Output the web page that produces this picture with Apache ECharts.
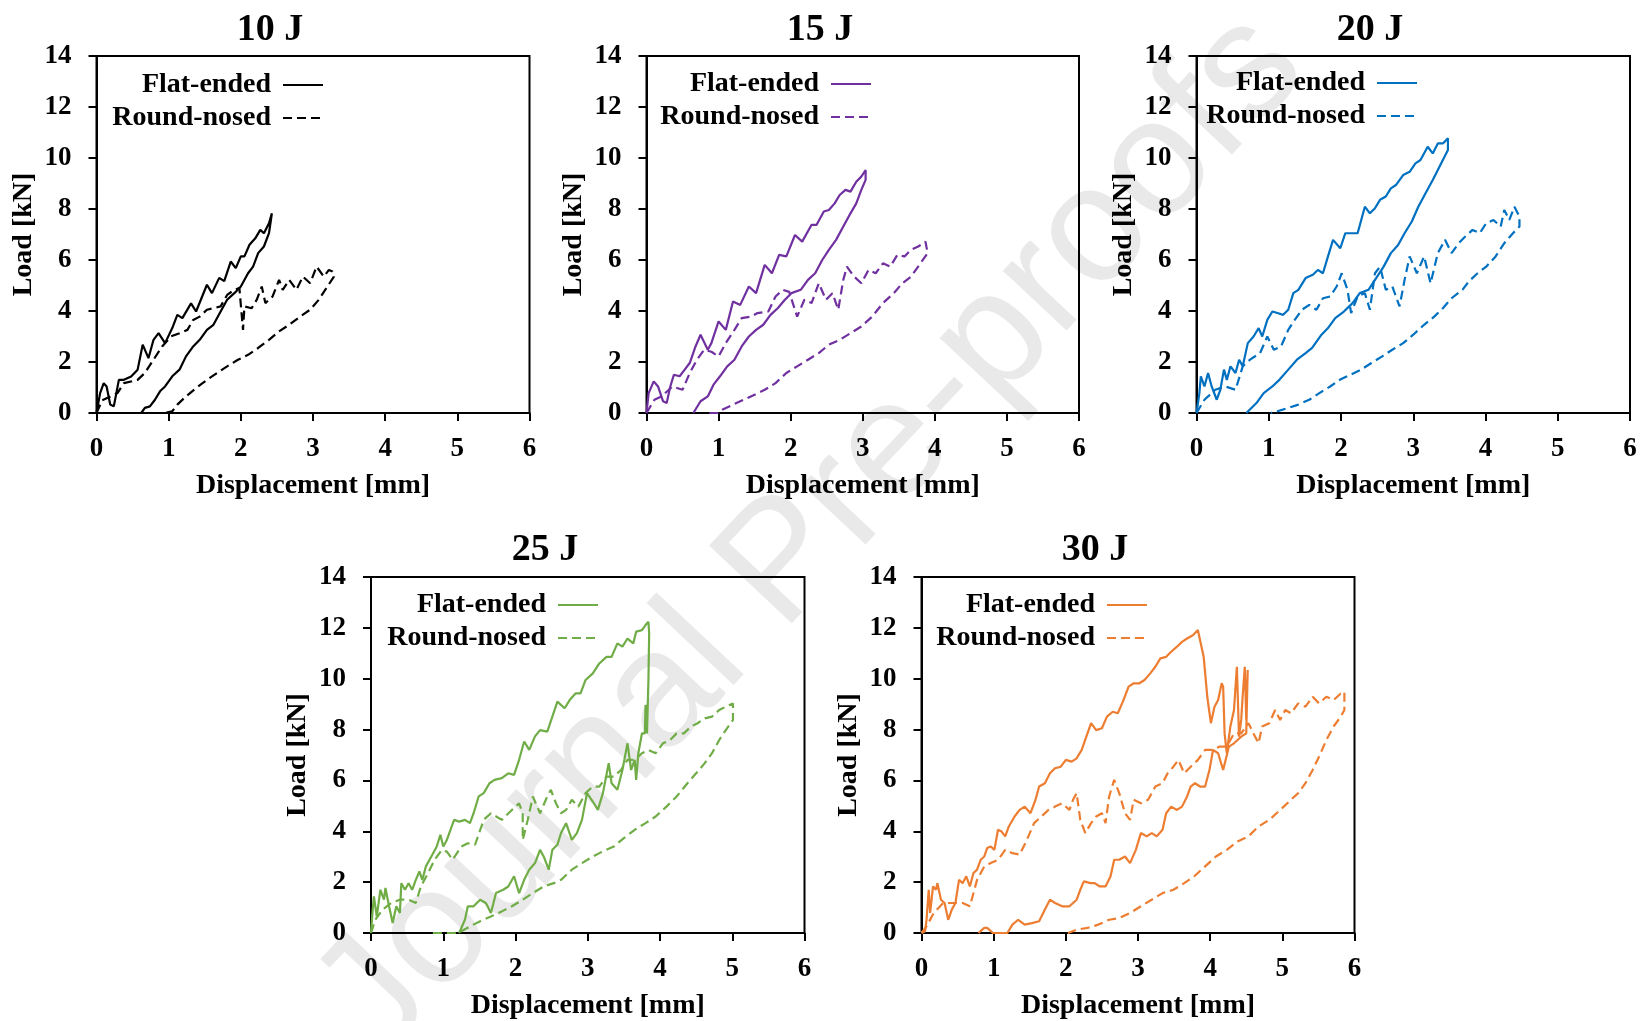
<!DOCTYPE html>
<html>
<head>
<meta charset="utf-8">
<script src="https://cdn.jsdelivr.net/npm/echarts@6/dist/echarts.min.js"></script>
<style>
html,body{margin:0;padding:0;background:#fff;}
#chart{width:1646px;height:1021px;}
</style>
</head>
<body>
<div id="chart"></div>
<script>
// ---------- DATA (displacement [mm], load [kN]) ----------
const panelTitles = ['10 J', '15 J', '20 J', '25 J', '30 J'];
const seriesLabels = ['Flat-ended', 'Round-nosed'];
const xTicks = [0, 1, 2, 3, 4, 5, 6];
const yTicks = [0, 2, 4, 6, 8, 10, 12, 14];
const panelColors = ['#000000', '#7030a0', '#0070c0', '#70ad47', '#ed7d31'];

const flat10 = [[0,0],[0.05,0.78],[0.1,1.17],[0.14,1.04],[0.19,0.33],[0.24,0.26],[0.31,1.3],[0.38,1.3],[0.48,1.43],[0.57,1.7],[0.64,2.68],[0.72,2.15],[0.79,2.87],[0.86,3.13],[0.95,2.74],[1.05,3.33],[1.12,3.85],[1.19,3.72],[1.31,4.3],[1.38,3.98],[1.53,5.03],[1.6,4.7],[1.7,5.3],[1.77,5.17],[1.86,5.94],[1.93,5.68],[2.0,6.14],[2.05,6.14],[2.12,6.6],[2.2,6.85],[2.27,7.18],[2.32,7.05],[2.39,7.44],[2.43,7.83],[2.39,7.05],[2.32,6.53],[2.24,6.27],[2.17,5.74],[2.1,5.48],[2.0,4.96],[1.91,4.7],[1.81,4.44],[1.72,3.98],[1.62,3.46],[1.53,3.26],[1.43,2.87],[1.34,2.61],[1.24,2.22],[1.15,1.7],[1.05,1.44],[0.95,1.04],[0.88,0.85],[0.81,0.52],[0.74,0.26],[0.67,0.2],[0.62,0]];
const round10 = [[0,0],[0.08,0.5],[0.29,0.78],[0.38,1.17],[0.57,1.3],[0.67,1.57],[0.79,2.09],[0.91,2.61],[1.03,3.0],[1.15,3.13],[1.26,3.26],[1.34,3.65],[1.43,3.78],[1.53,4.05],[1.62,4.11],[1.72,4.18],[1.81,4.63],[1.91,4.83],[1.98,4.9],[2.03,3.26],[2.05,4.18],[2.15,4.11],[2.22,4.44],[2.29,4.96],[2.34,4.31],[2.44,4.57],[2.53,5.22],[2.58,4.83],[2.67,5.22],[2.77,4.83],[2.86,5.35],[2.96,5.09],[3.05,5.74],[3.15,5.35],[3.22,5.61],[3.27,5.55],[3.29,5.35],[3.2,4.96],[3.08,4.44],[2.96,4.05],[2.82,3.78],[2.67,3.46],[2.53,3.2],[2.39,2.87],[2.24,2.55],[2.1,2.28],[1.96,2.09],[1.81,1.83],[1.67,1.57],[1.53,1.3],[1.38,0.98],[1.24,0.65],[1.12,0.33],[1.05,0.07],[0.95,0]];

const flat15 = [[0,0],[0.03,0.78],[0.1,1.24],[0.16,1.04],[0.23,0.46],[0.28,0.39],[0.33,1.04],[0.38,1.5],[0.46,1.44],[0.53,1.7],[0.6,1.96],[0.68,2.61],[0.75,3.07],[0.85,2.48],[0.9,2.74],[1.0,3.59],[1.1,3.26],[1.2,4.37],[1.3,4.24],[1.42,4.96],[1.52,4.7],[1.64,5.81],[1.74,5.48],[1.84,6.2],[1.94,6.14],[2.06,6.98],[2.16,6.72],[2.29,7.38],[2.36,7.38],[2.46,7.9],[2.53,7.96],[2.61,8.22],[2.68,8.55],[2.76,8.75],[2.83,8.68],[2.91,9.07],[2.98,9.27],[3.04,9.53],[3.04,9.14],[2.98,8.75],[2.91,8.22],[2.83,7.83],[2.73,7.31],[2.63,6.79],[2.53,6.4],[2.44,6.01],[2.34,5.48],[2.24,5.22],[2.14,4.83],[2.01,4.7],[1.92,4.44],[1.82,4.11],[1.72,3.85],[1.62,3.46],[1.52,3.26],[1.42,3.0],[1.32,2.61],[1.22,2.09],[1.12,1.83],[1.02,1.44],[0.93,1.11],[0.85,0.65],[0.75,0.46],[0.65,0]];
const round15 = [[0,0],[0.11,0.52],[0.21,0.65],[0.36,1.04],[0.5,0.91],[0.6,1.57],[0.7,2.09],[0.8,2.48],[0.9,2.4],[1.0,2.22],[1.1,2.74],[1.22,3.26],[1.32,3.72],[1.45,3.78],[1.54,3.92],[1.69,3.98],[1.79,4.57],[1.89,4.83],[1.98,4.75],[2.09,3.78],[2.19,4.44],[2.29,4.31],[2.39,5.09],[2.49,4.44],[2.58,4.7],[2.66,4.05],[2.73,5.22],[2.78,5.74],[2.88,5.35],[2.98,5.09],[3.08,5.61],[3.18,5.48],[3.28,5.87],[3.38,5.74],[3.48,6.2],[3.58,6.14],[3.67,6.4],[3.77,6.53],[3.87,6.72],[3.9,6.27],[3.8,5.87],[3.67,5.35],[3.55,5.09],[3.43,4.7],[3.28,4.31],[3.13,3.78],[2.98,3.39],[2.83,3.13],[2.68,2.87],[2.53,2.68],[2.39,2.35],[2.24,2.09],[2.09,1.83],[1.94,1.57],[1.79,1.17],[1.64,0.91],[1.5,0.72],[1.35,0.52],[1.2,0.33],[1.05,0.13],[1.0,0],[0.85,0]];

const flat20 = [[0,0],[0.04,0.78],[0.06,1.44],[0.11,1.04],[0.16,1.57],[0.21,1.04],[0.28,0.52],[0.33,0.91],[0.38,1.7],[0.42,1.3],[0.47,1.83],[0.54,1.57],[0.59,2.09],[0.64,1.83],[0.71,2.74],[0.79,3.0],[0.86,3.33],[0.91,3.0],[0.98,3.65],[1.05,3.98],[1.12,3.92],[1.2,3.85],[1.27,4.05],[1.34,4.7],[1.41,4.83],[1.51,5.29],[1.61,5.42],[1.68,5.61],[1.75,5.48],[1.82,6.14],[1.89,6.79],[1.99,6.46],[2.06,7.05],[2.14,7.05],[2.23,7.05],[2.33,8.09],[2.4,7.83],[2.47,8.03],[2.54,8.36],[2.62,8.49],[2.69,8.81],[2.76,8.94],[2.86,9.33],[2.95,9.46],[3.03,9.79],[3.1,9.92],[3.2,10.44],[3.27,10.18],[3.34,10.57],[3.41,10.57],[3.48,10.77],[3.48,10.31],[3.41,9.92],[3.34,9.53],[3.27,9.14],[3.17,8.62],[3.07,8.09],[2.98,7.51],[2.88,7.05],[2.79,6.59],[2.69,6.27],[2.59,5.74],[2.5,5.35],[2.38,4.83],[2.26,4.7],[2.16,4.31],[2.04,3.98],[1.92,3.72],[1.82,3.33],[1.73,3.07],[1.6,2.55],[1.51,2.35],[1.39,2.09],[1.27,1.7],[1.15,1.31],[1.05,1.04],[0.93,0.78],[0.83,0.39],[0.69,0]];
const round20 = [[0,0],[0.11,0.52],[0.26,0.91],[0.4,1.04],[0.54,0.91],[0.64,1.83],[0.74,2.09],[0.88,2.35],[0.98,3.0],[1.07,2.48],[1.17,2.61],[1.27,3.26],[1.36,3.65],[1.46,4.05],[1.56,4.24],[1.66,4.05],[1.75,4.5],[1.85,4.57],[1.94,4.96],[2.01,5.48],[2.09,4.83],[2.14,3.92],[2.23,4.57],[2.33,4.7],[2.4,4.05],[2.47,5.48],[2.54,5.74],[2.62,4.83],[2.71,4.96],[2.81,4.18],[2.88,5.22],[2.95,6.14],[3.05,5.48],[3.15,6.14],[3.24,5.09],[3.34,6.27],[3.44,6.79],[3.53,6.27],[3.63,6.66],[3.72,6.92],[3.82,7.18],[3.92,7.05],[4.01,7.44],[4.11,7.57],[4.21,7.31],[4.26,7.96],[4.33,7.57],[4.4,8.09],[4.47,7.7],[4.47,7.31],[4.38,7.05],[4.26,6.66],[4.14,6.14],[4.01,5.74],[3.89,5.48],[3.77,5.16],[3.68,4.83],[3.53,4.5],[3.41,4.11],[3.29,3.78],[3.15,3.46],[3.0,3.07],[2.86,2.74],[2.71,2.48],[2.57,2.22],[2.42,1.96],[2.28,1.7],[2.13,1.5],[1.99,1.31],[1.85,1.04],[1.7,0.78],[1.56,0.52],[1.41,0.33],[1.27,0.2],[1.12,0.07],[1.03,0]];

const flat25 = [[0,0],[0.02,0.79],[0.04,1.44],[0.08,0.65],[0.13,1.7],[0.18,1.31],[0.2,1.77],[0.25,1.05],[0.3,0.39],[0.35,1.05],[0.4,0.79],[0.42,1.96],[0.47,1.7],[0.52,1.96],[0.57,1.7],[0.62,2.09],[0.67,2.42],[0.71,2.09],[0.76,2.62],[0.81,2.88],[0.86,3.14],[0.91,3.4],[0.96,3.86],[1.0,3.4],[1.05,3.66],[1.1,4.06],[1.15,4.45],[1.22,4.38],[1.3,4.45],[1.37,4.32],[1.42,4.71],[1.49,5.37],[1.56,5.5],[1.64,5.89],[1.71,6.02],[1.81,6.09],[1.9,6.28],[1.98,6.22],[2.05,6.81],[2.12,7.53],[2.19,7.2],[2.27,7.73],[2.34,7.98],[2.44,7.92],[2.51,8.51],[2.58,9.1],[2.68,8.84],[2.75,9.16],[2.83,9.42],[2.9,9.42],[2.97,9.95],[3.07,10.21],[3.16,10.6],[3.26,10.86],[3.33,10.86],[3.41,11.39],[3.48,11.26],[3.55,11.58],[3.63,11.39],[3.67,11.85],[3.75,11.91],[3.8,12.11],[3.84,12.24],[3.85,11.78],[3.84,9.95],[3.82,7.85],[3.8,8.97],[3.79,7.85],[3.75,7.85],[3.7,7.07],[3.67,6.02],[3.65,6.81],[3.6,6.41],[3.55,7.46],[3.48,6.41],[3.41,5.63],[3.33,5.89],[3.29,6.68],[3.21,5.5],[3.14,4.84],[3.07,5.17],[2.99,5.5],[2.92,4.45],[2.85,3.93],[2.78,3.66],[2.7,4.32],[2.63,3.93],[2.58,3.47],[2.51,3.27],[2.46,2.49],[2.39,3.01],[2.34,3.27],[2.27,2.75],[2.19,2.49],[2.12,2.09],[2.05,1.57],[1.98,2.23],[1.9,1.83],[1.83,1.7],[1.73,1.57],[1.66,0.79],[1.59,1.18],[1.51,1.31],[1.42,1.05],[1.34,1.05],[1.3,0.52],[1.22,0]];
const round25 = [[0,0],[0.06,0.52],[0.16,0.92],[0.28,1.18],[0.4,1.31],[0.52,1.31],[0.62,1.18],[0.69,1.83],[0.79,2.36],[0.88,2.88],[0.98,3.27],[1.05,3.2],[1.13,2.88],[1.25,3.4],[1.34,3.53],[1.44,3.47],[1.56,4.45],[1.66,4.71],[1.81,4.45],[1.95,4.84],[2.05,5.1],[2.1,4.71],[2.1,3.66],[2.17,4.45],[2.24,5.37],[2.34,4.71],[2.44,5.37],[2.49,5.63],[2.56,5.1],[2.63,4.71],[2.7,4.84],[2.78,5.24],[2.87,4.97],[2.97,5.5],[3.07,5.76],[3.16,5.76],[3.26,6.15],[3.36,6.15],[3.46,6.41],[3.55,6.81],[3.65,6.81],[3.75,7.07],[3.84,7.2],[3.94,7.07],[4.04,7.46],[4.14,7.59],[4.23,7.85],[4.33,7.85],[4.43,8.12],[4.52,8.25],[4.62,8.44],[4.72,8.51],[4.82,8.77],[4.91,8.9],[5.01,9.03],[5.01,8.38],[4.91,7.98],[4.82,7.59],[4.72,7.07],[4.62,6.68],[4.5,6.28],[4.38,5.89],[4.23,5.37],[4.09,4.97],[3.94,4.58],[3.8,4.32],[3.65,4.06],[3.5,3.73],[3.36,3.4],[3.21,3.21],[3.07,3.01],[2.92,2.75],[2.78,2.49],[2.63,2.09],[2.53,1.96],[2.39,1.83],[2.24,1.57],[2.1,1.31],[1.95,1.05],[1.81,0.85],[1.66,0.65],[1.51,0.46],[1.37,0.26],[1.25,0.07],[1.17,0],[0.83,0]];

const flat30 = [[0,0],[0.05,0.07],[0.07,0.52],[0.1,1.7],[0.12,0.79],[0.16,1.83],[0.2,1.7],[0.22,1.96],[0.27,1.31],[0.32,1.18],[0.37,0.52],[0.42,0.92],[0.47,1.18],[0.52,2.09],[0.57,1.96],[0.62,2.23],[0.67,1.83],[0.72,2.36],[0.77,2.49],[0.82,2.88],[0.87,3.01],[0.91,3.34],[0.96,3.4],[1.01,3.27],[1.06,4.06],[1.11,3.99],[1.16,3.8],[1.21,4.19],[1.29,4.58],[1.36,4.84],[1.43,4.97],[1.51,4.71],[1.58,5.24],[1.63,5.76],[1.71,5.89],[1.78,6.28],[1.85,6.48],[1.93,6.54],[2.0,6.81],[2.08,6.74],[2.15,6.87],[2.22,7.2],[2.3,7.85],[2.35,8.25],[2.42,7.98],[2.5,8.05],[2.57,8.51],[2.65,8.7],[2.72,8.64],[2.79,9.1],[2.87,9.69],[2.94,9.82],[3.02,9.82],[3.09,9.95],[3.17,10.21],[3.24,10.47],[3.31,10.8],[3.39,10.86],[3.46,11.06],[3.54,11.26],[3.61,11.45],[3.68,11.58],[3.76,11.71],[3.83,11.91],[3.91,10.86],[3.96,9.29],[4.01,8.25],[4.06,8.9],[4.11,9.16],[4.16,9.82],[4.18,9.69],[4.2,7.85],[4.23,7.07],[4.28,8.12],[4.33,8.77],[4.37,10.47],[4.4,7.72],[4.43,8.38],[4.45,9.29],[4.48,10.47],[4.5,8.38],[4.52,10.34],[4.5,7.85],[4.43,7.72],[4.33,7.46],[4.26,7.33],[4.18,6.41],[4.11,7.07],[4.04,7.2],[3.99,6.41],[3.93,5.76],[3.86,5.76],[3.79,5.89],[3.73,5.76],[3.68,5.37],[3.61,4.97],[3.54,4.84],[3.46,4.97],[3.39,4.71],[3.34,4.06],[3.26,3.8],[3.19,3.93],[3.12,3.8],[3.04,3.93],[2.97,3.27],[2.89,2.75],[2.82,3.01],[2.74,2.88],[2.67,2.88],[2.62,2.23],[2.55,1.83],[2.47,1.83],[2.4,1.96],[2.34,1.96],[2.25,2.03],[2.2,1.7],[2.15,1.31],[2.05,1.05],[1.95,1.05],[1.85,1.18],[1.78,1.31],[1.71,0.92],[1.63,0.46],[1.53,0.39],[1.43,0.33],[1.34,0.52],[1.26,0.33],[1.19,0],[0.99,0],[0.91,0.2],[0.87,0.2],[0.79,0]];
const round30 = [[0,0],[0.07,0.26],[0.17,0.79],[0.3,1.18],[0.45,1.18],[0.57,1.18],[0.67,1.05],[0.77,2.09],[0.87,2.62],[0.96,2.75],[1.06,2.88],[1.16,3.27],[1.26,3.14],[1.36,3.08],[1.46,3.66],[1.56,4.32],[1.66,4.58],[1.76,4.84],[1.85,4.97],[1.95,5.1],[2.05,4.84],[2.1,5.24],[2.15,5.5],[2.2,4.45],[2.27,3.93],[2.35,4.32],[2.42,4.58],[2.5,4.71],[2.55,4.32],[2.6,5.37],[2.67,6.02],[2.74,5.5],[2.82,4.71],[2.89,4.45],[2.94,5.24],[3.04,5.1],[3.14,5.24],[3.24,5.76],[3.34,5.89],[3.41,6.28],[3.49,6.54],[3.56,6.81],[3.64,6.28],[3.73,6.54],[3.83,6.81],[3.93,7.2],[4.03,7.2],[4.13,7.33],[4.23,7.33],[4.33,7.85],[4.43,7.85],[4.53,8.25],[4.6,7.85],[4.67,7.46],[4.72,8.12],[4.82,8.25],[4.9,8.77],[4.97,8.38],[5.04,8.77],[5.12,8.64],[5.22,9.03],[5.32,8.9],[5.42,9.29],[5.51,9.03],[5.61,9.29],[5.71,9.16],[5.81,9.42],[5.86,9.49],[5.86,8.77],[5.81,8.51],[5.71,8.12],[5.61,7.59],[5.51,6.94],[5.42,6.41],[5.32,5.89],[5.22,5.5],[5.12,5.24],[5.02,4.97],[4.92,4.71],[4.82,4.45],[4.67,4.19],[4.53,3.8],[4.38,3.6],[4.23,3.27],[4.08,3.01],[3.93,2.62],[3.78,2.23],[3.64,1.96],[3.49,1.7],[3.34,1.57],[3.19,1.31],[3.04,1.05],[2.89,0.79],[2.74,0.59],[2.6,0.52],[2.45,0.33],[2.3,0.2],[2.15,0.13],[2.03,0]];

const flatSets = [flat10, flat15, flat20, flat25, flat30];
const roundSets = [round10, round15, round20, round25, round30];

// ---------- LAYOUT ----------
const grids = [
  {left: 96.5,  top: 56,  width: 433,   height: 357},
  {left: 646.5, top: 56,  width: 432.5, height: 357},
  {left: 1196.5,top: 56,  width: 433.5, height: 357},
  {left: 371,   top: 577, width: 433.5, height: 356},
  {left: 921.5, top: 577, width: 433,   height: 356}
];
const titlePos = [[270, 30], [820, 30], [1370, 30], [545, 550], [1095, 550]];
const legendPos = [[324, 71], [872, 70], [1418, 69], [599, 591], [1148, 591]];

const FONT = "'Liberation Serif', 'Times New Roman', serif";
const W = 1646;

const option = {
  backgroundColor: '#ffffff',
  animation: false,
  graphic: [{
    type: 'text', z: -10, x: 812, y: 535, rotation: 46.8 * Math.PI / 180,
    style: {text: 'Journal Pre-proofs', fill: '#e9e9e9', font: "165px 'Liberation Sans', Arial, sans-serif",
            textAlign: 'center', textVerticalAlign: 'middle'}
  }],
  title: panelTitles.map((t, i) => ({
    text: t, left: titlePos[i][0], top: titlePos[i][1], textAlign: 'center', textVerticalAlign: 'middle', padding: 0,
    textStyle: {fontFamily: FONT, fontWeight: 'bold', fontSize: 38, color: '#000'}
  })),
  legend: panelTitles.map((t, i) => ({
    orient: 'vertical', align: 'right', right: W - legendPos[i][0], top: legendPos[i][1], padding: 0,
    itemWidth: 40, itemHeight: 12, itemGap: 5,
    itemStyle: {opacity: 0},
    data: seriesLabels.map(s => t + ' ' + s),
    formatter: name => name.replace(/^\d+ J /, ''),
    textStyle: {fontFamily: FONT, fontWeight: 'bold', fontSize: 28, color: '#000', padding: [0, 7, 0, 0]}
  })),
  grid: grids.map(g => Object.assign({show: true, borderColor: '#000', borderWidth: 2, backgroundColor: 'transparent'}, g)),
  xAxis: grids.map((g, i) => ({
    gridIndex: i, type: 'value', min: xTicks[0], max: xTicks[xTicks.length - 1], interval: 1,
    axisLine: {show: true, onZero: false, lineStyle: {color: '#000', width: 2}},
    axisTick: {show: true, length: 8, lineStyle: {color: '#000', width: 2}},
    splitLine: {show: false},
    axisLabel: {color: '#000', fontFamily: FONT, fontWeight: 'bold', fontSize: 27, margin: 23},
    name: 'Displacement [mm]', nameLocation: 'middle', nameGap: 59,
    nameTextStyle: {color: '#000', fontFamily: FONT, fontWeight: 'bold', fontSize: 28}
  })),
  yAxis: grids.map((g, i) => ({
    gridIndex: i, type: 'value', min: yTicks[0], max: yTicks[yTicks.length - 1], interval: 2,
    axisLine: {show: true, onZero: false, lineStyle: {color: '#000', width: 2}},
    axisTick: {show: true, length: 8, lineStyle: {color: '#000', width: 2}},
    splitLine: {show: false},
    axisLabel: {color: '#000', fontFamily: FONT, fontWeight: 'bold', fontSize: 27, margin: 25},
    name: 'Load [kN]', nameLocation: 'middle', nameGap: 59,
    nameTextStyle: {color: '#000', fontFamily: FONT, fontWeight: 'bold', fontSize: 28}
  })),
  series: []
};

panelTitles.forEach((t, i) => {
  option.series.push({
    name: t + ' ' + seriesLabels[0], type: 'line', xAxisIndex: i, yAxisIndex: i,
    data: flatSets[i], symbol: 'none', smooth: false, z: 3,
    lineStyle: {color: panelColors[i], width: 2.2, type: 'solid'},
    itemStyle: {color: panelColors[i]}
  });
  option.series.push({
    name: t + ' ' + seriesLabels[1], type: 'line', xAxisIndex: i, yAxisIndex: i,
    data: roundSets[i], symbol: 'none', smooth: false, z: 3,
    lineStyle: {color: panelColors[i], width: 2.2, type: [9, 5]},
    itemStyle: {color: panelColors[i]}
  });
});

const chart = echarts.init(document.getElementById('chart'), null, {renderer: 'canvas'});
chart.setOption(option);
</script>
</body>
</html>
